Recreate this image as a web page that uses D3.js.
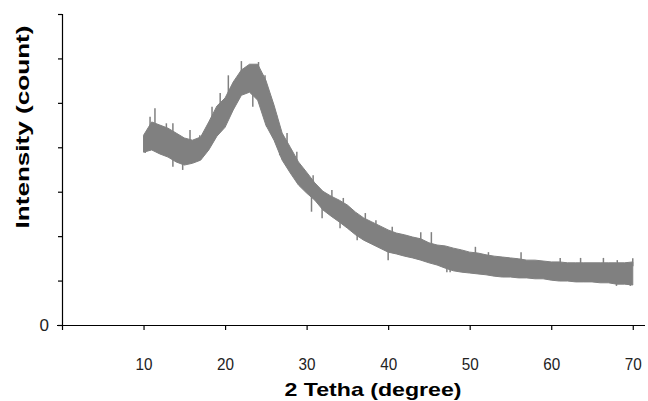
<!DOCTYPE html>
<html>
<head>
<meta charset="utf-8">
<script src="https://cdn.jsdelivr.net/npm/d3@7"></script>
<style>
  html, body { margin: 0; padding: 0; background: #fff; }
  text { font-family: Arial, "Liberation Sans", sans-serif; }
</style>
</head>
<body>
<div id="display"></div>
<script>
// 2 theta grid (degree) and the band of the noisy trace
const twoTheta = [10, 11, 12, 13, 14, 15, 16, 17, 18, 19, 20, 21, 22, 23, 24, 25, 26, 27, 28, 29,
    30, 31, 32, 33, 34, 35, 36, 37, 38, 39, 40, 41, 42, 43, 44, 45, 46, 47, 48, 49,
    50, 51, 52, 53, 54, 55, 56, 57, 58, 59, 60, 61, 62, 63, 64, 65, 66, 67, 68, 69, 70];
const bandHigh = [427, 457, 450, 443, 432, 421, 416, 423, 457, 493, 511, 547, 574, 587, 587, 551, 495, 432, 400, 367,
    344, 320, 301, 290, 281, 270, 254, 241, 232, 223, 214, 207, 203, 198, 194, 185, 180, 178, 173, 169,
    164, 162, 158, 155, 153, 151, 149, 146, 146, 144, 142, 142, 140, 140, 140, 140, 140, 140, 140, 140, 142];
const bandLow = [389, 394, 385, 378, 367, 360, 364, 371, 394, 425, 445, 484, 517, 524, 506, 450, 416, 371, 342, 315,
    297, 281, 259, 245, 232, 218, 203, 191, 182, 173, 164, 160, 155, 151, 146, 140, 135, 128, 122, 119,
    117, 115, 113, 110, 108, 108, 106, 106, 104, 104, 101, 99, 99, 97, 97, 97, 95, 95, 92, 92, 90];

// single spikes sticking out of the band: [2 theta, intensity]
const spikesUp = [[10.8, 469], [11.4, 488], [12.8, 454], [13.6, 454], [15.7, 439], [16.9, 427],
    [18.4, 491], [19.4, 522], [20.4, 562], [22.0, 594], [24.1, 592], [24.9, 562], [26.3, 472],
    [27.6, 432], [28.8, 390], [30.8, 337], [33.1, 304], [34.5, 286], [37.2, 252], [38.5, 236],
    [40.5, 221], [44.0, 209], [45.3, 209], [50.7, 176], [52.3, 164], [56.3, 164], [61.1, 151],
    [63.6, 151], [66.4, 151], [68.1, 146], [70.0, 150]];
const spikesDown = [[10.2, 387], [13.6, 356], [14.8, 349], [21.0, 495], [23.4, 491], [25.1, 446],
    [26.7, 382], [28.8, 322], [30.6, 255], [31.9, 240], [34.1, 218], [36.2, 191], [40.0, 146],
    [47.2, 119], [47.6, 119], [68.0, 88], [69.7, 88]];

const xTicks = [0, 10, 20, 30, 40, 50, 60, 70];
const yTicks = [0, 100, 200, 300, 400, 500, 600, 700];

const svg = d3.select('#display')
    .append('svg')
    .attr('width', 648)
    .attr('height', 401);

const x = d3.scaleLinear().domain([0, 71.5]).range([62, 645]);
const y = d3.scaleLinear().domain([0, 700]).range([325, 14]);

const grey = '#808080';

// band
const band = twoTheta.map((t, i) => ({ t: t, lo: bandLow[i], hi: bandHigh[i] }));
svg.append('path')
    .datum(band)
    .attr('d', d3.area().x(d => x(d.t)).y0(d => y(d.lo)).y1(d => y(d.hi)))
    .attr('fill', grey)
    .attr('stroke', grey)
    .attr('stroke-width', 1);

const hiAt = t => d3.scaleLinear().domain(twoTheta).range(bandHigh)(t);
const loAt = t => d3.scaleLinear().domain(twoTheta).range(bandLow)(t);

svg.append('g').selectAll('line')
    .data(spikesUp)
    .join('line')
    .attr('x1', d => x(d[0])).attr('x2', d => x(d[0]))
    .attr('y1', d => y(hiAt(d[0]) - 10)).attr('y2', d => y(d[1]))
    .attr('stroke', grey).attr('stroke-width', 1.5);

svg.append('g').selectAll('line')
    .data(spikesDown)
    .join('line')
    .attr('x1', d => x(d[0])).attr('x2', d => x(d[0]))
    .attr('y1', d => y(loAt(d[0]) + 10)).attr('y2', d => y(d[1]))
    .attr('stroke', grey).attr('stroke-width', 1.5);

// x axis
const xAxis = svg.append('g')
    .attr('transform', 'translate(0,325)')
    .call(d3.axisBottom(x).tickValues(xTicks).tickSize(5).tickFormat(d => d === 0 ? '' : d));
xAxis.select('.domain').attr('stroke', '#000').attr('stroke-width', 1.2).attr('d', 'M57,0.5H645');
xAxis.selectAll('.tick line').attr('stroke', '#000').attr('stroke-width', 1.2);
xAxis.selectAll('.tick text')
    .attr('y', 45)
    .attr('dy', null)
    .attr('fill', '#222')
    .style('font-size', '17px')
    .attr('textLength', 17)
    .attr('lengthAdjust', 'spacingAndGlyphs');

// y axis
const yAxis = svg.append('g')
    .attr('transform', 'translate(62,0)')
    .call(d3.axisLeft(y).tickValues(yTicks).tickSize(4).tickFormat(d => d === 0 ? '0' : ''));
yAxis.select('.domain').attr('stroke', '#000').attr('stroke-width', 1.2).attr('d', 'M0.5,14V325');
yAxis.selectAll('.tick line').attr('stroke', '#000').attr('stroke-width', 1.2);
yAxis.selectAll('.tick text')
    .attr('x', -13)
    .attr('fill', '#222')
    .style('font-size', '17px');

// titles
svg.append('text')
    .attr('x', 373)
    .attr('y', 396)
    .attr('text-anchor', 'middle')
    .attr('font-weight', 'bold')
    .style('font-size', '19px')
    .attr('textLength', 177)
    .attr('lengthAdjust', 'spacingAndGlyphs')
    .text('2 Tetha (degree)');

svg.append('text')
    .attr('transform', 'translate(29,127) rotate(-90)')
    .attr('text-anchor', 'middle')
    .attr('font-weight', 'bold')
    .style('font-size', '19px')
    .attr('textLength', 203)
    .attr('lengthAdjust', 'spacingAndGlyphs')
    .text('Intensity (count)');
</script>
</body>
</html>
